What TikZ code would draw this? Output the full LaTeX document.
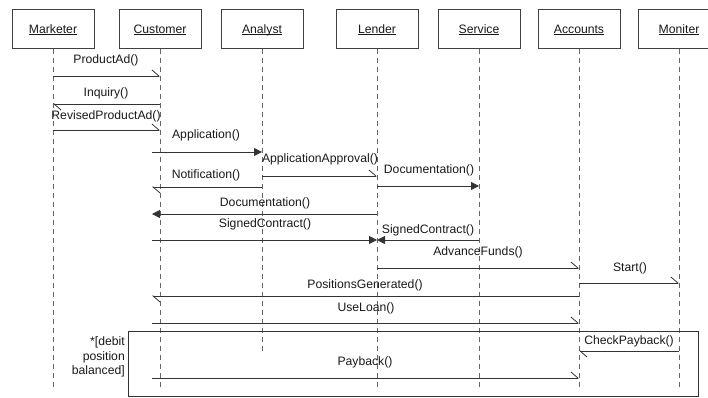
\documentclass[tikz,border=0pt]{standalone}
\usepackage{fontspec}
\setmainfont{Liberation Sans}
\usetikzlibrary{arrows.meta}
\newcommand{\actorname}[1]{\underline{\smash{#1}}}
\begin{document}
\begin{tikzpicture}[x=1pt,y=-1pt,
  every node/.style={font=\fontsize{12.2}{14.5}\selectfont, text=black!90, inner sep=0pt},
  actor/.style={draw=black!75, line width=0.8pt, minimum width=82pt, minimum height=39pt, fill=white,
    text height=8.5pt, text depth=0pt},
  lifeline/.style={draw=black!60, dash pattern=on 5pt off 4pt, line width=0.9pt},
  async/.style={draw=black!80, line width=0.8pt, -{Straight Barb[left,length=7pt,width=12pt]}},
  sync/.style={draw=black!80, line width=0.8pt, -{Triangle[length=8pt,width=8pt]}},
  frame/.style={draw=black!80, line width=0.9pt}]
\clip (0,0) rectangle (708,397);

% participants
\node[actor] (mk) at (53,29)  {\actorname{Marketer}};
\node[actor] (cu) at (160,29) {\actorname{Customer}};
\node[actor] (an) at (262,29) {\actorname{Analyst}};
\node[actor] (le) at (377,29) {\actorname{Lender}};
\node[actor] (se) at (479,29) {\actorname{Service}};
\node[actor] (ac) at (579,29) {\actorname{Accounts}};
\node[actor] (mo) at (679,29) {\actorname{Moniter}};

% attach point of the customer's later messages
\coordinate (cuP) at (152,0);

% lifeline ends
\coordinate (endA) at (0,388);
\coordinate (endB) at (0,354);
\draw[lifeline] (mk.south) -- (mk |- endA);
\draw[lifeline] (cu.south) -- (cu |- endA);
\draw[lifeline] (an.south) -- (an |- endB);
\draw[lifeline] (le.south) -- (le |- endA);
\draw[lifeline] (se.south) -- (se |- endA);
\draw[lifeline] (ac.south) -- (ac |- endA);
\draw[lifeline] (mo.south) -- (mo |- endA);

% message rows
\coordinate (r1) at (0,76);
\coordinate (r2) at (0,104);
\coordinate (r3) at (0,130);
\coordinate (r4) at (0,152);
\coordinate (r5) at (0,176);
\coordinate (r6) at (0,187);
\coordinate (r7) at (0,186);
\coordinate (r8) at (0,214);
\coordinate (r9) at (0,240);
\coordinate (r11) at (0,268);
\coordinate (r12) at (0,283);
\coordinate (r13) at (0,296);
\coordinate (r14) at (0,323);
\coordinate (r15) at (0,351);
\coordinate (r16) at (0,378);

% messages
\draw[async] (mk |- r1) -- (cu |- r1);
\node (t1) at (106,60) {ProductAd()};
\draw[async] (cu |- r2) -- (mk |- r2);
\node (t2) at (106,93) {Inquiry()};
\draw[async] (mk |- r3) -- (cu |- r3);
\node (t3) at (106,116) {RevisedProductAd()};
\draw[sync] (cuP |- r4) -- (an |- r4);
\node (t4) at (206,135) {Application()};
\draw[async] (an |- r5) -- (le |- r5);
\node (t5) at (320,159) {ApplicationApproval()};
\draw[async] (an |- r6) -- (cuP |- r6);
\node (t6) at (206,175) {Notification()};
\draw[sync] (le |- r7) -- (se |- r7);
\node (t7) at (429,170) {Documentation()};
\draw[sync] (le |- r8) -- (cuP |- r8);
\node (t8) at (265,203) {Documentation()};
\draw[sync] (cuP |- r9) -- (le |- r9);
\node (t9) at (265,224) {SignedContract()};
\draw[sync] (se |- r9) -- (le |- r9);
\node (t10) at (428,230) {SignedContract()};
\draw[async] (le |- r11) -- (ac |- r11);
\node (t11) at (478,252) {AdvanceFunds()};
\draw[async] (ac |- r12) -- (mo |- r12);
\node (t12) at (630,268) {Start()};
\draw[async] (ac |- r13) -- (cuP |- r13);
\node (t13) at (365,285) {PositionsGenerated()};
\draw[async] (cuP |- r14) -- (ac |- r14);
\node (t14) at (366,308) {UseLoan()};

% loop fragment
\draw[frame] (128,331) rectangle (698,396);
\node[align=right, anchor=east] (guard) at (125,357) {*[debit\\position\\balanced]};
\draw[async] (mo |- r15) -- (ac |- r15);
\node (t15) at (629,341) {CheckPayback()};
\draw[async] (cuP |- r16) -- (ac |- r16);
\node (t16) at (365,362) {Payback()};
\end{tikzpicture}
\end{document}
